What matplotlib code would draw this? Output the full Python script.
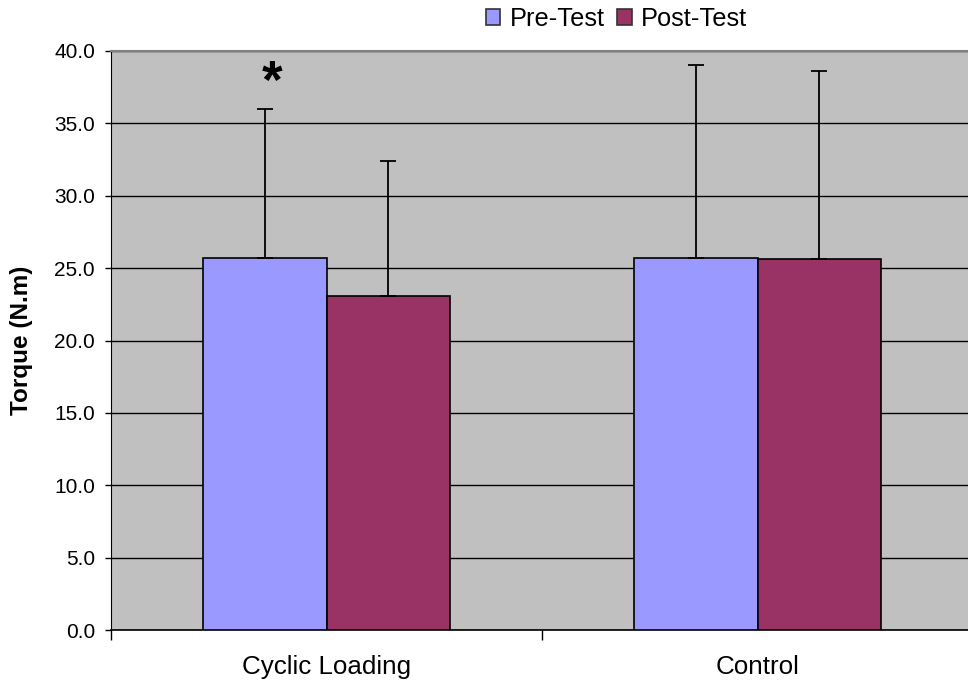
import matplotlib
matplotlib.use("Agg")
import matplotlib.pyplot as plt
import numpy as np

plt.rcParams['font.family'] = ['Liberation Sans', 'DejaVu Sans']

categories = ["Cyclic Loading", "Control"]
series = ["Pre-Test", "Post-Test"]
pre_vals = [25.7, 25.7]
post_vals = [23.1, 25.6]
pre_err = [10.3, 13.3]
post_err = [9.3, 13.0]
colors = ["#9999FF", "#993366"]
yticks = [0.0, 5.0, 10.0, 15.0, 20.0, 25.0, 30.0, 35.0, 40.0]

fig = plt.figure(figsize=(9.68, 6.82), dpi=100)
ax = fig.add_axes([111/968, 1-630/682, (973-111)/968, (630-51)/682])
ax.set_facecolor("#C0C0C0")

x = np.arange(len(categories))
w = 0.287
ekw = dict(ecolor="black", elinewidth=1.3, capsize=5.8, capthick=1.3)
ax.bar(x - w/2, pre_vals, w, color=colors[0], edgecolor="black", linewidth=1.2,
       yerr=[np.zeros(2), pre_err], error_kw=ekw, label=series[0], zorder=3)
ax.bar(x + w/2, post_vals, w, color=colors[1], edgecolor="black", linewidth=1.2,
       yerr=[np.zeros(2), post_err], error_kw=ekw, label=series[1], zorder=3)

ax.text(x[0] - w/2 + 0.017, 36.75, "*", ha="center", va="baseline",
        fontsize=38, fontweight="bold")

ax.set_xlim(-0.5, 1.5)
ax.set_ylim(0, 40)
ax.set_yticks(yticks)
ax.set_yticklabels([f"{t:.1f}" for t in yticks], fontsize=15)
ax.yaxis.grid(True, color="black", linewidth=1.0, zorder=1)
ax.set_axisbelow(True)
ax.set_xticks([-0.5, 0.5, 1.5])
ax.set_xticklabels([])
ax.set_xticks(x, minor=True)
ax.set_xticklabels(categories, minor=True, fontsize=18.7)
ax.tick_params(axis='x', which='minor', length=0, pad=18)
ax.tick_params(axis='x', which='major', length=7, direction='out', width=1)
ax.tick_params(axis='y', length=4.5, direction='out', width=1, pad=7)
ax.spines["right"].set_visible(False)
ax.spines["top"].set_color("#808080")
ax.spines["top"].set_linewidth(1.5)
ax.spines["left"].set_color("black")
ax.spines["bottom"].set_color("black")
ax.spines["bottom"].set_linewidth(1.2)

ax.set_ylabel("Torque (N.m)", fontsize=17.5, fontweight="bold")
ax.yaxis.set_label_coords((33-111)/862, 0.5)

leg = fig.legend(loc="center", bbox_to_anchor=(616.5/968, 1-19/682), ncol=2, frameon=False,
                 fontsize=18.3, handlelength=0.56, handleheight=0.6, handletextpad=0.36,
                 columnspacing=0.5, borderpad=0, borderaxespad=0)
for h in leg.legend_handles:
    h.set_edgecolor("#333333")
    h.set_linewidth(1.2)

fig.savefig("out.png", dpi=100)
